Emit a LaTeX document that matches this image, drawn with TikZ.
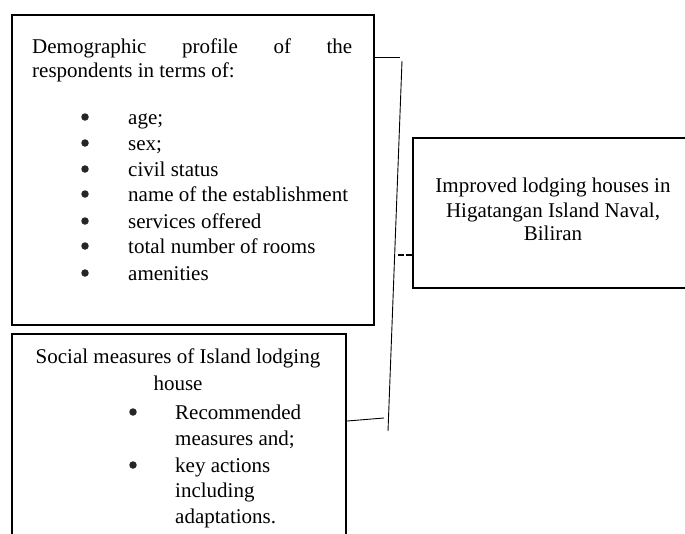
\documentclass[tikz,border=0pt]{standalone}
\usepackage{fontspec}
\setmainfont{Liberation Serif}
\begin{document}
\begin{tikzpicture}[x=1pt,y=-1pt,
  boxframe/.style={draw, line width=2.2pt, rectangle, inner sep=0pt, anchor=north west},
  txt/.style={font=\fontsize{21}{26}\selectfont, inner sep=0pt},
  bul/.style={circle, fill=black!85, inner sep=0pt, minimum size=7.5pt},
  thinline/.style={line width=0.9pt},
  dashline/.style={line width=2.2pt, dash pattern=on 6pt off 2pt}]
\useasboundingbox (0,0) rectangle (685,533);
\clip (0,0) rectangle (685,533);
% boxes
\node[boxframe, minimum width=362pt, minimum height=310pt] (box1) at (11,14) {};
\node[boxframe, minimum width=334pt, minimum height=240pt] (box2) at (11,333) {};
\node[boxframe, minimum width=282pt, minimum height=150pt] (box3) at (412,137) {};
% box 1 text
\node[txt, anchor=base west] (h1) at (32,53) {\hbox to 320pt{Demographic\hfill profile\hfill of\hfill the}};
\node[txt, anchor=base west] (h2) at (32,77) {respondents in terms of:};
\foreach \y/\t [count=\i] in {124/age;, 150/sex;, 176/civil status, 201/name of the establishment, 228/services offered, 253/total number of rooms, 280/amenities}{
  \node[bul] (b\i) at (85,\y-7) {};
  \node[txt, anchor=base west] (i\i) at (128,\y) {\t};
}
% box 2 text
\node[txt, anchor=base] (s1) at (178,363) {Social measures of Island lodging};
\node[txt, anchor=base] (s2) at (178,390) {house};
\node[bul] (sb1) at (133,412) {};
\node[txt, anchor=base west] (r1) at (175,419) {Recommended};
\node[txt, anchor=base west] (r2) at (175,445) {measures and;};
\node[bul] (sb2) at (133,465) {};
\node[txt, anchor=base west] (r3) at (175,472) {key actions};
\node[txt, anchor=base west] (r4) at (175,497) {including};
\node[txt, anchor=base west] (r5) at (175,523) {adaptations.};
% box 3 text
\node[txt, anchor=base] (o1) at (553,192) {Improved lodging houses in};
\node[txt, anchor=base] (o2) at (553,217) {Higatangan Island Naval,};
\node[txt, anchor=base] (o3) at (553,240) {Biliran};
% connectors
\coordinate (bt) at (400,57);
\draw[thinline] (bt -| box1.east) -- (bt);
\coordinate (sl1) at (402,61);
\coordinate (sl2) at (388,431);
\draw[thinline] (sl1) -- (sl2);
\coordinate (bl) at (347,421);
\coordinate (br) at (384,418);
\draw[thinline] (box2.east |- bl) -- (br);
\coordinate (dl) at (398,255);
\draw[dashline] (dl) -- (dl -| box3.west);
\end{tikzpicture}
\end{document}
